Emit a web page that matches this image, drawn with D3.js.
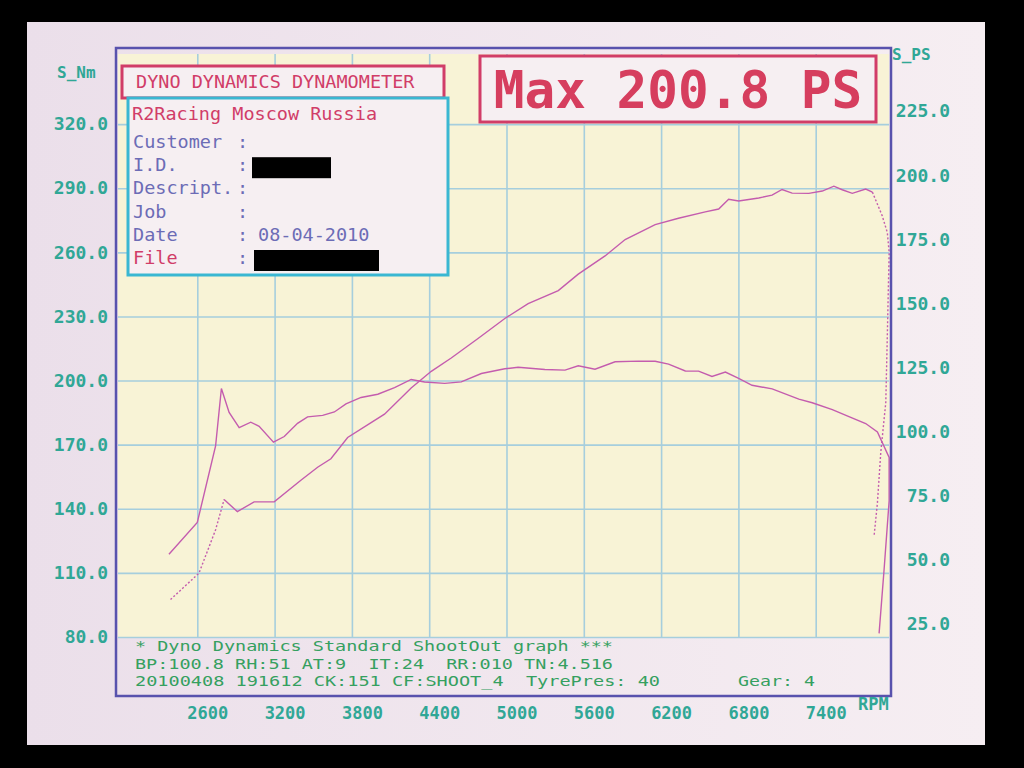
<!DOCTYPE html>
<html><head><meta charset="utf-8">
<script src="https://cdn.jsdelivr.net/npm/d3@7/dist/d3.min.js"></script>
<style>html,body{margin:0;padding:0;background:#000;}svg{display:block;}</style>
</head><body>
<svg id="c" width="1024" height="768"></svg>
<script>
// ---- data ----
const rpmTicks = [2600, 3200, 3800, 4400, 5000, 5600, 6200, 6800, 7400];
const nmTicks = [80, 110, 140, 170, 200, 230, 260, 290, 320];
const psTicks = [25, 50, 75, 100, 125, 150, 175, 200, 225];

const torqueRpm = [2380, 2600, 2742, 2787, 2847, 2925, 3015, 3080, 3191, 3275, 3378, 3456, 3573, 3664, 3754, 3871, 4001, 4131, 4260, 4364, 4520, 4649, 4805, 4987, 5090, 5298, 5454, 5557, 5687, 5843, 6024, 6154, 6258, 6388, 6491, 6595, 6699, 6802, 6906, 7062, 7269, 7373, 7529, 7658, 7788, 7879, 7970, 7970, 7931, 7892];
const torqueNm = [118.7, 133.6, 169.4, 196.3, 185.1, 178.0, 180.5, 178.6, 171.2, 173.8, 180.0, 183.0, 183.7, 185.3, 189.1, 192.1, 193.6, 196.7, 200.5, 199.3, 198.7, 199.4, 203.3, 205.5, 206.2, 205.2, 204.9, 206.9, 205.3, 208.8, 209.1, 209.0, 207.7, 204.5, 204.4, 201.9, 204.0, 201.0, 197.8, 196.1, 191.3, 189.6, 186.4, 183.1, 179.9, 175.9, 164.0, 143.7, 111.7, 81.7];

const powerRpm = [2392, 2613, 2742, 2808, 2911, 3041, 3197, 3404, 3534, 3637, 3767, 3949, 4053, 4260, 4416, 4571, 4779, 4987, 5168, 5402, 5557, 5765, 5921, 6154, 6335, 6543, 6647, 6724, 6802, 6958, 7061, 7139, 7217, 7347, 7451, 7541, 7606, 7684, 7788, 7840, 7916, 7956, 7970, 7956, 7944, 7905, 7879, 7853];
const powerPs = [39.6, 49.9, 66.8, 78.6, 73.9, 77.7, 77.7, 86.1, 91.2, 94.5, 102.8, 108.6, 111.9, 122.1, 128.6, 133.8, 141.4, 149.2, 155.0, 160.1, 166.5, 173.6, 180.0, 185.8, 188.3, 190.8, 191.9, 195.7, 195.0, 196.2, 197.3, 199.5, 198.1, 198.0, 198.9, 200.8, 199.4, 198.0, 199.7, 198.5, 189.3, 182.7, 175.0, 142.7, 116.5, 96.9, 77.3, 64.3];

const headerTitle = "DYNO DYNAMICS DYNAMOMETER";
const maxText = "Max 200.8 PS";
const infoLabels = ["Customer", "I.D.", "Descript.", "Job", "Date", "File"];
const infoValues = ["", null, "", "", "08-04-2010", null]; // null = blacked out
const footerLines = [
  "* Dyno Dynamics Standard ShootOut graph ***",
  "BP:100.8 RH:51 AT:9  IT:24  RR:010 TN:4.516",
  "20100408 191612 CK:151 CF:SHOOT_4  TyrePres: 40"
];
const gearText = "Gear: 4";

// ---- drawing ----
const svg = d3.select("#c");
const mono = "'DejaVu Sans Mono','Liberation Mono',monospace";

svg.append("rect").attr("x",0).attr("y",0).attr("width",1024).attr("height",768).attr("fill","#000");
const grad = svg.append("defs").append("linearGradient").attr("id","paper").attr("x1","0").attr("x2","1").attr("y1","0").attr("y2","0");
grad.append("stop").attr("offset","0").attr("stop-color","#ebdfea");
grad.append("stop").attr("offset","1").attr("stop-color","#f6eef2");
svg.append("rect").attr("x",27).attr("y",22).attr("width",958).attr("height",723).attr("fill","url(#paper)");

const L = 118, R = 889, T = 54, B = 637;
const x = d3.scaleLinear().domain([2000, 8000]).range([120, 893]);
const yNm = d3.scaleLinear().domain([80, 350]).range([B, 60]);
const yPs = d3.scaleLinear().domain([25, 250]).range([B, 60]);

// plot background
svg.append("rect").attr("x",L).attr("y",T).attr("width",R-L).attr("height",B-T).attr("fill","#f8f3d6");

// grid
const gridCol = "#a6cedd";
const gx = svg.append("g").attr("transform",`translate(0,${B})`)
  .call(d3.axisBottom(x).tickValues(rpmTicks).tickSize(-(B-T)).tickFormat(""));
gx.select(".domain").remove();
gx.selectAll("line").attr("stroke",gridCol).attr("stroke-width",1.6);
const gy = svg.append("g").attr("transform",`translate(${L},0)`)
  .call(d3.axisLeft(yNm).tickValues(nmTicks).tickSize(-(R-L)).tickFormat(""));
gy.select(".domain").remove();
gy.selectAll("line").attr("stroke",gridCol).attr("stroke-width",1.6);

// curves
const curveCol = "#c45cae";
const tData = torqueRpm.map((r,i)=>({r, v: torqueNm[i]}));
const pData = powerRpm.map((r,i)=>({r, v: powerPs[i]}));
const lineT = d3.line().x(d=>x(d.r)).y(d=>yNm(d.v));
const lineP = d3.line().x(d=>x(d.r)).y(d=>yPs(d.v));
svg.append("path").attr("d",lineT(tData)).attr("fill","none").attr("stroke",curveCol).attr("stroke-width",1.4);
svg.append("path").attr("d",lineP(pData.slice(0,4))).attr("fill","none").attr("stroke",curveCol).attr("stroke-width",1.4).attr("stroke-dasharray","2,2");
svg.append("path").attr("d",lineP(pData.slice(3,40))).attr("fill","none").attr("stroke",curveCol).attr("stroke-width",1.4);
svg.append("path").attr("d",lineP(pData.slice(39))).attr("fill","none").attr("stroke",curveCol).attr("stroke-width",1.4).attr("stroke-dasharray","2,2");

// frame
svg.append("rect").attr("x",116).attr("y",48).attr("width",775).attr("height",648)
  .attr("fill","none").attr("stroke","#5852ad").attr("stroke-width",2.5);

// axis labels
const axCol = "#30a796";
const ay = svg.append("g").attr("transform","translate(114,0)")
  .call(d3.axisLeft(yNm).tickValues(nmTicks).tickSize(0).tickPadding(6).tickFormat(d=>d.toFixed(1)));
ay.select(".domain").remove();
ay.selectAll("text").attr("fill",axCol).attr("font-family",mono).attr("font-size",18).attr("font-weight","bold");

const ar = svg.append("g").attr("transform","translate(950,0)")
  .call(d3.axisLeft(yPs).tickValues(psTicks).tickSize(0).tickPadding(0).tickFormat(d=>d.toFixed(1)));
ar.select(".domain").remove();
ar.selectAll("text").attr("fill",axCol).attr("font-family",mono).attr("font-size",18).attr("font-weight","bold").attr("dy","-0.4em");

const ax = svg.append("g").attr("transform","translate(10,703)")
  .call(d3.axisBottom(x).tickValues(rpmTicks).tickSize(0).tickPadding(4).tickFormat(d=>String(d)));
ax.select(".domain").remove();
ax.selectAll("text").attr("fill",axCol).attr("font-family",mono).attr("font-size",17).attr("font-weight","bold");

svg.append("text").attr("x",57).attr("y",78).text("S_Nm").attr("fill",axCol).attr("font-family",mono).attr("font-size",16).attr("font-weight","bold");
svg.append("text").attr("x",892).attr("y",60).text("S_PS").attr("fill",axCol).attr("font-family",mono).attr("font-size",16).attr("font-weight","bold");
svg.append("text").attr("x",858).attr("y",710).text("RPM").attr("fill",axCol).attr("font-family",mono).attr("font-size",17).attr("font-weight","bold");

// header box
const red = "#d13d68";
svg.append("rect").attr("x",122).attr("y",66).attr("width",322).attr("height",32).attr("fill","#f6eff2").attr("stroke",red).attr("stroke-width",3);
svg.append("text").attr("x",136).attr("y",88).text(headerTitle).attr("fill",red).attr("font-family",mono).attr("font-size",18.5);

// info box
svg.append("rect").attr("x",128).attr("y",98).attr("width",320).attr("height",177).attr("fill","#f6eff2").attr("stroke","#3ab7d2").attr("stroke-width",3);
svg.append("text").attr("x",132).attr("y",120).text("R2Racing Moscow Russia").attr("fill",red).attr("font-family",mono).attr("font-size",18.5);
const labCol = "#6c6cb6";
infoLabels.forEach((lab,i)=>{
  const yb = 148 + i*23.2;
  const col = lab === "File" ? red : labCol;
  svg.append("text").attr("x",133).attr("y",yb).text(lab).attr("fill",col).attr("font-family",mono).attr("font-size",18.5);
  svg.append("text").attr("x",237).attr("y",yb).text(":").attr("fill",labCol).attr("font-family",mono).attr("font-size",18.5);
  if (infoValues[i] === null) {
    const w = lab === "File" ? 125 : 79;
    svg.append("rect").attr("x",lab==="File"?254:252).attr("y",yb-14).attr("width",w).attr("height",21).attr("fill","#000");
  } else if (infoValues[i]) {
    svg.append("text").attr("x",258).attr("y",yb).text(infoValues[i]).attr("fill",labCol).attr("font-family",mono).attr("font-size",18.5);
  }
});

// Max box
svg.append("rect").attr("x",480).attr("y",56).attr("width",396).attr("height",66).attr("fill","#f6eff2").attr("stroke",red).attr("stroke-width",3);
svg.append("text").attr("x",678).attr("y",108).attr("text-anchor","middle").text(maxText)
  .attr("fill","#d63e5e").attr("font-family",mono).attr("font-size",51).attr("font-weight","bold");

// footer
const footCol = "#35a060";
const footLen = [478, 478, 0];
footerLines.forEach((t,i)=>{
  const tx = svg.append("text").attr("x",135).attr("y",651 + i*17.5).text(t).attr("fill",footCol)
    .attr("font-family",mono).attr("font-size",14.5).style("white-space","pre");
  if (footLen[i]) tx.attr("textLength",footLen[i]).attr("lengthAdjust","spacingAndGlyphs");
  else tx.attr("textLength",525).attr("lengthAdjust","spacingAndGlyphs");
});
svg.append("text").attr("x",738).attr("y",686).text(gearText).attr("fill",footCol).attr("font-family",mono).attr("font-size",14.5)
  .attr("textLength",77).attr("lengthAdjust","spacingAndGlyphs");
</script>
</body></html>
